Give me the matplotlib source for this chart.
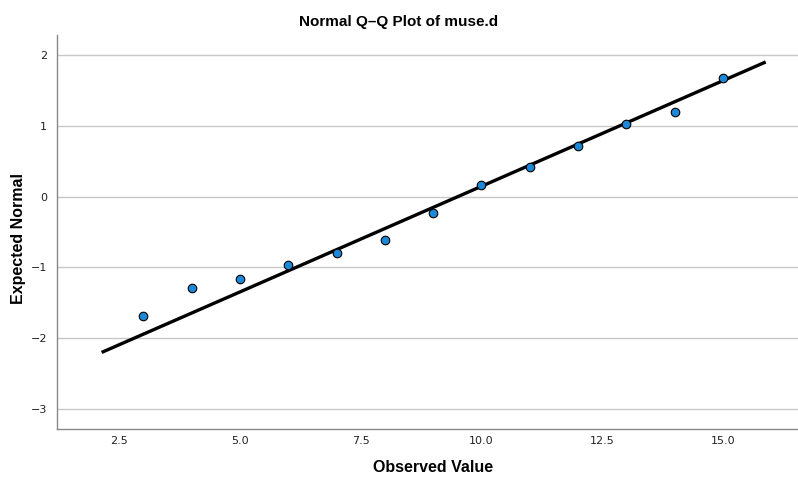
import numpy as np
import matplotlib.pyplot as plt

observed = [3, 4, 5, 6, 7, 8, 9, 10, 11, 12, 13, 14, 15]
expected = [-1.68, -1.29, -1.16, -0.97, -0.79, -0.61, -0.23, 0.17, 0.42, 0.72, 1.02, 1.20, 1.67]

# Reference line end points
line_x = [2.17, 15.85]
line_y = [-2.19, 1.89]

x_ticks = [2.5, 5.0, 7.5, 10.0, 12.5, 15.0]
y_ticks = [-3, -2, -1, 0, 1, 2]

fig = plt.figure(figsize=(7.98, 4.79), dpi=100)
ax = fig.add_axes([57 / 798, 1 - 429 / 479, 741 / 798, 394 / 479])

for yt in y_ticks:
    ax.axhline(yt, color='#c8c8c8', linewidth=1.0, zorder=0)

ax.plot(line_x, line_y, color='black', linewidth=2.4, zorder=2)
ax.scatter(observed, expected, s=38, color='#1e88d8', edgecolors='black',
           linewidths=0.8, zorder=3)

ax.set_xlim(1.215, 16.55)
ax.set_ylim(-3.28, 2.28)
ax.set_xticks(x_ticks)
ax.set_xticklabels(['2.5', '5.0', '7.5', '10.0', '12.5', '15.0'])
ax.set_yticks(y_ticks)
ax.set_yticklabels(['\u22123', '\u22122', '\u22121', '0', '1', '2'])
ax.tick_params(axis='x', length=0, labelsize=8, colors='#222222', pad=5)
ax.tick_params(axis='y', length=0, labelsize=8, colors='#222222', pad=7)

for side in ['top', 'right']:
    ax.spines[side].set_visible(False)
for side in ['left', 'bottom']:
    ax.spines[side].set_color('#888888')
    ax.spines[side].set_linewidth(1.0)

label_font = 'Liberation Sans'
fig.text(433 / 798, 1 - 467 / 479, 'Observed Value', ha='center', va='center',
         fontsize=11.5, fontweight='bold', family=label_font)
fig.text(19 / 798, 1 - 238 / 479, 'Expected Normal', ha='center', va='center',
         rotation=90, fontsize=11.5, fontweight='bold', family=label_font)
fig.text(399 / 798, 1 - 22 / 479, 'Normal Q\u2013Q Plot of muse.d', ha='center', va='center',
         fontsize=11, fontweight='bold', family=label_font)

plt.savefig('out.png', dpi=100)
